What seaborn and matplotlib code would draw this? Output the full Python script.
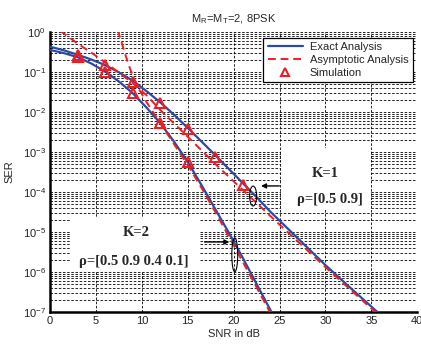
import numpy as np
import matplotlib
matplotlib.use("Agg")
import matplotlib.pyplot as plt
import seaborn as sns
from matplotlib.lines import Line2D
from matplotlib.patches import Rectangle, Ellipse
from matplotlib.ticker import LogLocator, NullFormatter, LogFormatterMathtext

# values
snr_k1_exact = [0, 1.5, 3, 4.5, 6, 7.5, 9, 10.5, 12, 13.5, 15, 16.5, 18, 19.5, 21, 22.5, 24, 27, 30, 33, 36, 37]
ser_k1_exact = [0.427, 0.347, 0.269, 0.204, 0.148, 0.0977, 0.0603, 0.0331, 0.0174, 0.00851, 0.00398, 0.00182,
                8.3e-4, 3.7e-4, 1.66e-4, 7.4e-5, 3.2e-5, 6.9e-6, 1.48e-6, 3.5e-7, 8.5e-8, 5.2e-8]

snr_k2_exact = [0, 1.5, 3, 4.5, 6, 7.5, 9, 10.5, 12, 13.5, 15, 16.5, 18, 19.5, 21, 22.5, 24, 25]
ser_k2_exact = [0.355, 0.295, 0.234, 0.162, 0.102, 0.0575, 0.0295, 0.0129, 0.00525, 0.00182, 5.6e-4, 1.48e-4,
                3.7e-5, 9.3e-6, 2.24e-6, 5.0e-7, 1.12e-7, 4.2e-8]

snr_k1_asym = [0, 1.5, 3, 4.5, 6, 7.5, 9, 10.5, 12, 15, 18, 21, 24, 27, 30, 33, 36, 38]
ser_k1_asym = [1.66, 0.91, 0.513, 0.302, 0.174, 0.0955, 0.0525, 0.0263, 0.0112, 0.0024, 5.0e-4, 1.12e-4,
               2.5e-5, 5.75e-6, 1.32e-6, 3.16e-7, 7.6e-8, 3.0e-8]

snr_k2_asym = [7, 7.43, 8, 8.5, 9, 9.5, 10.5, 12, 13.5, 15, 16.5, 18, 21, 24, 25]
ser_k2_asym = [2.24, 1.0, 0.38, 0.166, 0.079, 0.0437, 0.0178, 0.00525, 0.00158, 4.7e-4, 1.26e-4, 3.16e-5,
               1.78e-6, 9.5e-8, 3.6e-8]

snr_k1_sim = [3, 6, 9, 12, 15, 18, 21]
ser_k1_sim = [0.263, 0.145, 0.0575, 0.0166, 0.0037, 7.6e-4, 1.48e-4]
snr_k2_sim = [3, 6, 9, 12, 15]
ser_k2_sim = [0.24, 0.102, 0.0295, 0.00525, 5.6e-4]

blue = "#2b4aa0"
red = "#ee1c25"

sns.set_style("white")
plt.rcParams['font.family'] = ['Liberation Sans', 'DejaVu Sans']

fig = plt.figure(figsize=(4.21, 3.47), dpi=100)
ax = fig.add_axes([0.119, 0.101, 0.872, 0.807])

# exact curves
for x, y in [(snr_k1_exact, ser_k1_exact), (snr_k2_exact, ser_k2_exact)]:
    sns.lineplot(x=x, y=y, ax=ax, color=blue, linewidth=1.6, sort=False, zorder=3)
# asymptotic curves
for x, y in [(snr_k1_asym, ser_k1_asym), (snr_k2_asym, ser_k2_asym)]:
    sns.lineplot(x=x, y=y, ax=ax, color=red, linewidth=1.4, sort=False, zorder=4,
                 linestyle=(0, (4, 2.5)))
# simulation
for x, y in [(snr_k1_sim, ser_k1_sim), (snr_k2_sim, ser_k2_sim)]:
    ax.plot(x, y, linestyle='none', marker='^', markersize=7.5, markerfacecolor='none',
            markeredgecolor=red, markeredgewidth=1.5, zorder=5)

ax.set_yscale('log')
ax.set_xlim(0, 40)
ax.set_ylim(1e-7, 1)
ax.set_xticks(np.arange(0, 41, 5))
ax.yaxis.set_major_locator(LogLocator(base=10, numticks=10))
ax.yaxis.set_major_formatter(LogFormatterMathtext())
ax.yaxis.set_minor_locator(LogLocator(base=10, subs=np.arange(2, 10), numticks=20))
ax.yaxis.set_minor_formatter(NullFormatter())
ax.tick_params(axis='both', which='major', labelsize=8, length=0, pad=3, colors='#222222')
ax.tick_params(axis='y', which='minor', length=0)

ax.set_axisbelow(True)
ax.grid(which='major', axis='both', color='black', linestyle=(0, (3, 2)), linewidth=0.6)
ax.grid(which='minor', axis='y', color='black', linestyle=(0, (3, 2)), linewidth=0.6)

for s in ['top', 'right']:
    ax.spines[s].set_visible(False)
for s in ['left', 'bottom']:
    ax.spines[s].set_linewidth(1.8)
    ax.spines[s].set_color('black')

ax.set_xlabel('SNR in dB', fontsize=8, labelpad=2)
ax.set_ylabel('SER', fontsize=8, labelpad=6)
ax.set_title(r'M$_\mathregular{R}$=M$_\mathregular{T}$=2, 8PSK', fontsize=8, pad=7)

# white boxes behind the annotations
ax.add_patch(Rectangle((0.054, 0.143), 0.354, 0.193, transform=ax.transAxes,
                       facecolor='white', edgecolor='none', zorder=1.5))
ax.add_patch(Rectangle((0.630, 0.364), 0.245, 0.222, transform=ax.transAxes,
                       facecolor='white', edgecolor='none', zorder=1.5))

tfont = dict(family=['Liberation Serif', 'DejaVu Serif'], fontweight='bold', fontsize=10.5,
             ha='center', va='center', transform=ax.transAxes, zorder=6)
ax.text(0.234, 0.282, 'K=2', **tfont)
ax.text(0.228, 0.179, 'ρ=[0.5 0.9 0.4 0.1]', **tfont)
ax.text(0.750, 0.496, 'K=1', **tfont)
ax.text(0.761, 0.400, 'ρ=[0.5 0.9]', **tfont)

# arrows and ellipses
ax.annotate('', xy=(0.567, 0.45), xytext=(0.632, 0.45), xycoords='axes fraction',
            arrowprops=dict(arrowstyle='-|>', color='black', lw=1.0, mutation_scale=7), zorder=6)
ax.annotate('', xy=(0.496, 0.25), xytext=(0.413, 0.25), xycoords='axes fraction',
            arrowprops=dict(arrowstyle='-|>', color='black', lw=1.0, mutation_scale=7), zorder=6)
ax.add_patch(Ellipse((0.553, 0.414), 0.019, 0.071, transform=ax.transAxes,
                     facecolor='none', edgecolor='black', linewidth=0.8, zorder=6))
ax.add_patch(Ellipse((0.503, 0.204), 0.016, 0.121, transform=ax.transAxes,
                     facecolor='none', edgecolor='black', linewidth=0.8, zorder=6))

handles = [Line2D([], [], color=blue, linewidth=1.6),
           Line2D([], [], color=red, linewidth=1.4, linestyle=(0, (4, 2.5))),
           Line2D([], [], color=red, linestyle='none', marker='^', markersize=6,
                  markerfacecolor='none', markeredgewidth=1.5)]
leg = ax.legend(handles, ['Exact Analysis', 'Asymptotic Analysis', 'Simulation'],
                loc='upper right', bbox_to_anchor=(0.988, 0.979), borderaxespad=0,
                fontsize=8, handlelength=3.2, handletextpad=0.6, labelspacing=0.25,
                borderpad=0.4, fancybox=False, framealpha=1)
leg.get_frame().set_edgecolor('black')
leg.get_frame().set_linewidth(0.9)
leg.set_zorder(7)

fig.savefig('out.png', dpi=100)
